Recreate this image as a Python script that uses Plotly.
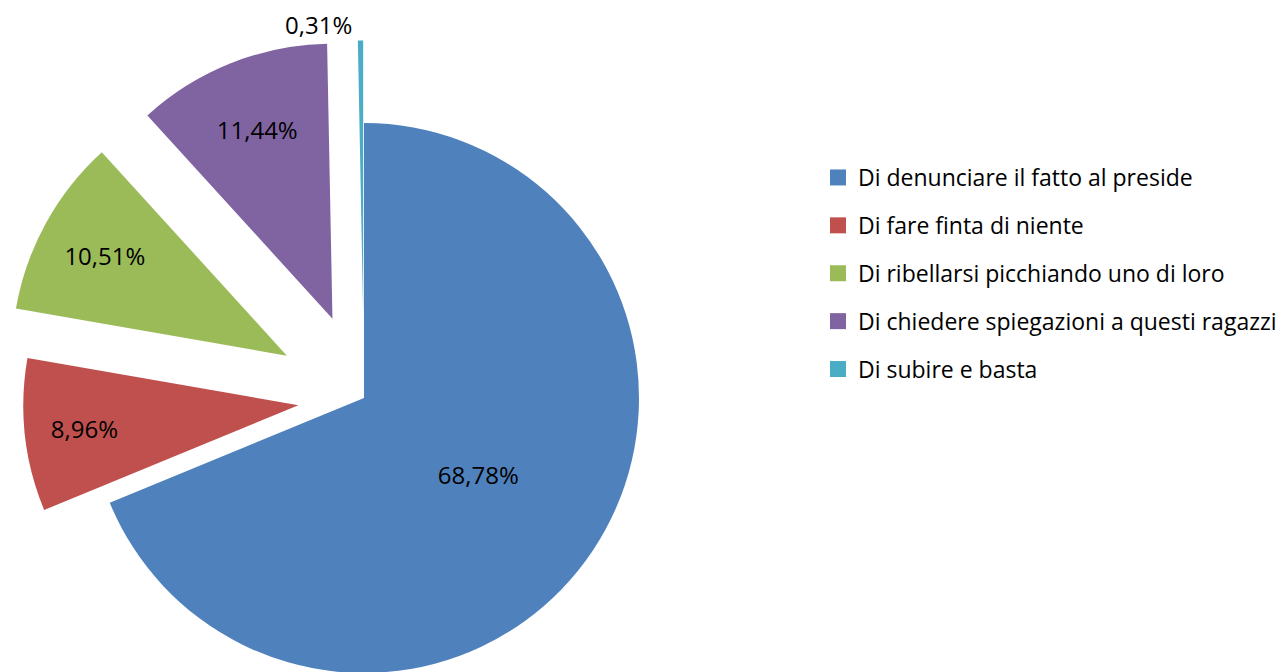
import plotly.graph_objects as go

categories = [
    "Di denunciare il fatto al preside",
    "Di fare finta di niente",
    "Di ribellarsi picchiando uno di loro",
    "Di chiedere spiegazioni a questi ragazzi",
    "Di subire e basta",
]
values = [68.78, 8.96, 10.51, 11.44, 0.31]
value_labels = ["68,78%", "8,96%", "10,51%", "11,44%", "0,31%"]
colors = ["#4F81BD", "#C0504D", "#9BBB59", "#8064A2", "#4BACC6"]
pulls = [0, 0.24, 0.32, 0.31, 0.30]

W, H = 1282, 770
FONT = "Open Sans"

fig = go.Figure()
fig.add_trace(go.Pie(
    labels=categories,
    values=values,
    text=value_labels,
    textinfo="text",
    textposition=["inside", "inside", "inside", "inside", "outside"],
    insidetextorientation="horizontal",
    sort=False,
    direction="clockwise",
    rotation=0,
    pull=pulls,
    marker=dict(colors=colors, line=dict(width=0)),
    textfont=dict(family=FONT, size=24, color="#000000"),
    domain=dict(x=[1 / W, 727 / W], y=[(H - 761) / H, (H - 35) / H]),
    showlegend=False,
    hoverinfo="label+percent",
))

# legend entries (one per category) so spacing can match the reference
for cat, col in zip(categories, colors):
    fig.add_trace(go.Scatter(
        x=[None], y=[None], mode="markers", name=cat,
        legendgroup=cat,
        marker=dict(symbol="square", size=16, color=col),
    ))

fig.update_layout(
    width=W, height=H,
    margin=dict(l=0, r=0, t=0, b=0, autoexpand=False),
    paper_bgcolor="white", plot_bgcolor="white",
    xaxis=dict(visible=False), yaxis=dict(visible=False),
    showlegend=True,
    legend=dict(
        x=818 / W, y=(H - 156) / H, xanchor="left", yanchor="top",
        font=dict(family=FONT, size=23, color="#000000"),
        tracegroupgap=15,
        bgcolor="rgba(0,0,0,0)",
    ),
    font=dict(family=FONT),
)

fig.write_html(
    "out.html",
    config={"displayModeBar": False},
    post_script="document.body.style.margin='0';document.body.style.overflow='hidden';",
)
